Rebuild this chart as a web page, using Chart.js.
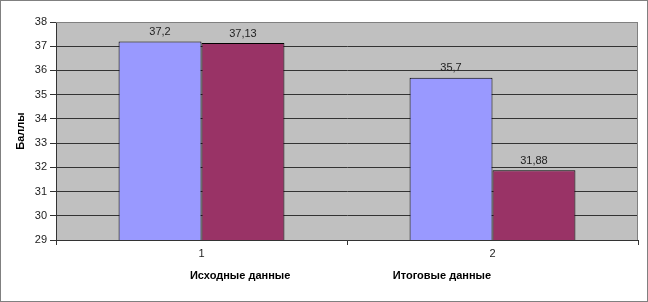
<!DOCTYPE html>
<html>
<head>
<meta charset="utf-8">
<script src="https://cdn.jsdelivr.net/npm/chart.js@4.4.1/dist/chart.umd.min.js"></script>
<style>
  html, body { margin: 0; padding: 0; background: #fff; }
  #wrap { width: 648px; height: 302px; box-sizing: border-box; border: 1px solid #808080; }
  canvas { display: block; }
</style>
</head>
<body>
<div id="wrap"><canvas id="myChart" width="646" height="300"></canvas></div>
<script>
const categories = ["1", "2"];
const seriesNames = ["Исходные данные", "Итоговые данные"];
const firstValues = [37.2, 35.7];
const secondValues = [37.13, 31.88];
const yTicks = [29, 30, 31, 32, 33, 34, 35, 36, 37, 38];

const FONT = "'Liberation Sans', Arial, sans-serif";

// grey plot area with a frame, like the old Excel chart
const plotBackground = {
  id: "plotBackground",
  beforeDraw(chart) {
    const { ctx, chartArea: a } = chart;
    ctx.save();
    ctx.fillStyle = "#c0c0c0";
    ctx.fillRect(a.left, a.top, a.right - a.left, a.bottom - a.top);
    ctx.restore();
  },
  afterDatasetsDraw(chart) {
    const { ctx, chartArea: a } = chart;
    ctx.save();
    ctx.strokeStyle = "#808080";
    ctx.lineWidth = 1;
    ctx.beginPath();
    ctx.moveTo(a.left, a.top + 0.5);
    ctx.lineTo(a.right - 0.5, a.top + 0.5);
    ctx.lineTo(a.right - 0.5, a.bottom);
    ctx.stroke();
    ctx.restore();
  }
};

// value labels over the bars, decimal comma
const valueLabels = {
  id: "valueLabels",
  afterDatasetsDraw(chart) {
    const { ctx } = chart;
    ctx.save();
    ctx.font = "11px " + FONT;
    ctx.fillStyle = "#222";
    ctx.textAlign = "center";
    ctx.textBaseline = "bottom";
    chart.data.datasets.forEach((ds, i) => {
      chart.getDatasetMeta(i).data.forEach((bar, j) => {
        const txt = String(ds.data[j]).replace(".", ",");
        ctx.fillText(txt, bar.x, bar.y - 4);
      });
    });
    ctx.restore();
  }
};

const ctx = document.getElementById("myChart").getContext("2d");
const myChart = new Chart(ctx, {
  type: "bar",
  data: {
    labels: categories,
    datasets: [
      {
        label: seriesNames[0],
        data: firstValues,
        backgroundColor: "#9999ff",
        borderColor: "#000",
        borderWidth: 1,
        barPercentage: 1,
        categoryPercentage: 0.57,
      },
      {
        label: seriesNames[1],
        data: secondValues,
        backgroundColor: "#993366",
        borderColor: "#000",
        borderWidth: 1,
        barPercentage: 1,
        categoryPercentage: 0.57,
      },
    ],
  },
  options: {
    responsive: false,
    animation: false,
    layout: { padding: { top: 21, right: 9, bottom: 10, left: 0 } },
    scales: {
      x: {
        offset: true,
        grid: {
          offset: true,
          drawOnChartArea: false,
          drawTicks: true,
          tickLength: 5,
          tickColor: "#333",
        },
        border: { color: "#333", width: 1 },
        ticks: { color: "#222", font: { family: FONT, size: 11 }, padding: 2 },
        afterFit(scale) { scale.height = 17; },
      },
      y: {
        min: 29,
        max: 38,
        afterBuildTicks(scale) { scale.ticks = yTicks.map(v => ({ value: v })); },
        grid: {
          color: (c) => (c.tick && c.tick.value === 38 ? "#808080" : "#333"),
          tickColor: "#333",
          tickLength: 6,
        },
        border: { color: "#333", width: 1 },
        ticks: { color: "#222", font: { family: FONT, size: 11 }, padding: 3, autoSkip: false },
        title: {
          display: true,
          text: "Баллы",
          color: "#000",
          font: { family: FONT, size: 11, weight: "bold" },
          padding: { top: 13, bottom: 0 },
        },
        afterFit(scale) { scale.width = 55; },
      },
    },
    plugins: {
      legend: {
        position: "bottom",
        fullSize: false,
        labels: {
          boxWidth: 84,
          boxHeight: 0,
          padding: 13,
          color: "#000",
          font: { family: FONT, size: 11, weight: "bold" },
          // the legend keys are not shown; an empty trailing entry keeps the spacing
          generateLabels(chart) {
            const items = chart.data.datasets.map((ds, i) => ({
              text: ds.label,
              fillStyle: "rgba(0,0,0,0)",
              strokeStyle: "rgba(0,0,0,0)",
              lineWidth: 0,
              hidden: false,
              datasetIndex: i,
            }));
            items.push({ text: "", fillStyle: "rgba(0,0,0,0)", strokeStyle: "rgba(0,0,0,0)", lineWidth: 0, hidden: false });
            return items;
          },
        },
      },
      tooltip: { enabled: false },
    },
  },
  plugins: [plotBackground, valueLabels],
});
</script>
</body>
</html>
